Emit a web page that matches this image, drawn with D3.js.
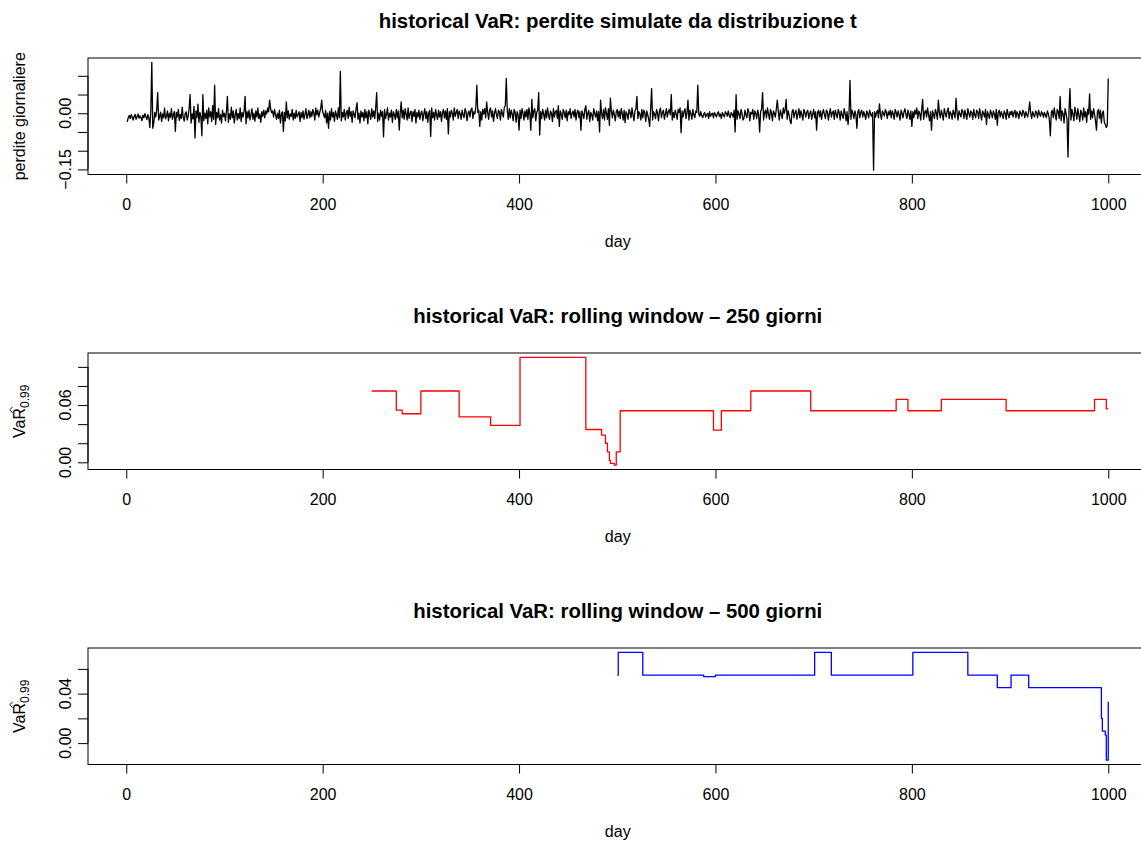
<!DOCTYPE html>
<html>
<head>
<meta charset="utf-8">
<script src="https://cdn.jsdelivr.net/npm/d3@7"></script>
<style>
body { margin: 0; background: #fff; }
text { font-family: "Liberation Sans", Arial, sans-serif; }
</style>
</head>
<body>
<svg id="chart" width="1141" height="841"></svg>
<script>
// daily simulated losses, in thousandths, day 1..1000
const lossMilli = [
  -23,-12,-6,-14,-4,-10,-18,-8,-3,-16,-9,-2,-13,-7,-11,-20,-5,-12,-1,-9,
  -17,-4,-12,-38,6,136,-40,-26,2,-10,8,55,-18,-8,3,-22,-2,-12,14,-15,
  -8,6,-20,0,-11,12,-16,-4,5,-48,2,-10,10,-19,-3,-14,16,-11,-21,-1,
  4,-18,-8,12,50,-26,-2,-15,18,-66,6,-11,24,-24,2,-9,-60,50,-20,0,
  -14,8,-28,14,-10,4,-22,20,-16,75,-30,2,-12,12,-18,-4,-26,8,-9,0,
  -20,4,45,-24,-2,-16,16,-12,6,-26,-3,10,-18,-1,-14,14,-22,2,-10,6,
  45,-28,4,-12,8,-18,-4,12,-16,0,-21,6,-10,14,-14,-2,-24,4,-8,8,
  -12,6,-2,14,4,35,12,2,6,-10,10,-4,-16,0,-14,8,-26,-2,4,-48,
  2,-20,30,-12,6,-16,-2,-8,10,-18,0,-14,8,-10,-4,4,-22,2,-12,6,
  -16,-2,12,-14,-4,8,-12,4,-8,10,0,-18,14,-4,8,-10,2,12,35,4,
  -4,-12,8,-26,0,-40,4,-18,12,-10,2,-22,6,-4,-16,14,-12,112,-20,2,
  -10,10,-18,0,8,-14,16,-8,4,-24,6,-2,-12,12,28,-16,0,-26,6,-10,
  2,-20,10,-12,4,-28,8,-4,-16,12,-10,6,-14,14,55,-22,0,-18,8,-8,
  4,-63,10,-14,-2,14,-18,0,-10,8,-24,4,-4,-16,10,-12,6,-45,2,30,
  -12,8,-16,12,-2,-18,14,-14,0,6,-22,4,-8,10,-26,2,-10,8,-16,0,
  6,-20,-2,12,-14,4,-24,0,8,-62,14,-12,2,-18,10,-4,-16,8,-10,4,
  -22,2,10,-12,6,-16,12,-55,4,-10,8,0,-18,14,-8,2,10,-14,6,-2,
  -16,8,-4,-12,12,4,-20,0,6,-10,10,14,-14,4,-2,16,75,2,8,-35,
  4,-18,10,-2,12,-12,30,2,-16,8,14,-10,6,-22,0,12,-4,-14,8,4,
  -18,10,0,-10,16,20,93,6,-16,12,-12,8,-2,-20,10,2,-24,4,-4,-45,
  8,-14,12,0,-18,6,-10,10,-16,14,-2,-45,37,-12,6,12,-20,2,8,55,
  -58,4,-14,10,-2,-18,8,-12,14,-4,-16,6,0,-22,12,-10,4,8,-14,20,
  -35,6,-2,-16,10,2,-12,8,-20,4,-4,12,-14,0,6,-10,10,-18,2,8,
  -12,4,-45,6,-2,-14,10,20,-16,0,8,-22,2,-4,-18,12,0,-10,6,-20,
  4,-50,35,-2,-14,10,-18,14,0,-16,12,-32,40,6,-12,8,-4,-20,4,10,
  -10,6,-14,12,0,-18,8,-25,4,-2,-16,10,2,-12,14,-4,-20,6,12,45,
  -14,4,-2,-18,10,-12,8,2,-22,6,-4,-16,-35,12,66,-18,4,-2,-14,10,
  0,-20,6,14,-12,2,8,-16,-2,12,-10,4,10,-4,50,-18,2,-12,8,-2,
  -16,10,2,14,-52,6,-10,4,12,-14,0,35,-18,8,-2,-16,10,-4,-12,6,
  2,75,-2,-8,4,-6,-12,-2,2,-10,-4,0,-14,4,-8,-2,0,-12,2,-4,
  -10,0,4,-8,-2,-14,2,-4,-10,4,0,-8,6,-6,-12,2,-2,-10,8,-50,
  50,-16,6,-2,-14,10,0,-18,-14,8,-4,-12,12,4,-20,2,-2,10,-16,6,
  0,-14,8,-4,-50,4,12,55,-18,2,8,-12,14,-2,-16,10,2,-20,6,0,
  -10,12,35,4,-18,8,-2,-14,14,0,10,37,-16,6,-4,-20,-28,4,10,-12,
  2,8,-16,-2,12,-12,6,-4,-18,10,2,-10,4,8,-14,0,6,-16,-2,10,
  -12,4,-45,2,8,-10,6,-16,0,10,-4,-14,8,4,-18,0,12,-10,2,6,
  -16,8,-2,-12,10,2,-18,6,-4,-14,12,0,-20,4,-30,-2,88,-16,8,0,
  -14,6,-4,-40,4,10,-12,2,8,-10,4,-4,-16,6,0,-12,8,-2,-8,2,
  -152,4,-10,2,8,-12,25,-2,-16,6,0,-8,10,2,-14,4,-4,8,-12,6,
  -2,-16,10,2,-10,6,-4,-18,8,0,-12,4,12,-4,-14,8,-2,-16,6,-35,
  4,-12,8,-2,14,-14,6,0,-18,10,37,-16,2,8,-10,14,-4,-20,4,-45,
  6,-2,-14,10,0,-16,35,2,-12,8,-4,-18,12,0,-10,6,14,-14,4,-2,
  -16,8,0,-12,40,2,-18,6,-2,-10,10,4,-14,8,-4,-16,12,0,-10,6,
  2,-16,10,-4,-12,8,4,-14,12,-2,-18,6,0,-10,10,-30,4,-4,-14,8,
  0,-12,6,-2,-16,10,-32,2,8,-10,4,-4,-14,6,0,-16,10,-2,-12,4,
  -4,6,-10,2,8,-12,4,-2,-14,6,0,-8,8,2,-12,4,-4,-10,6,30,
  0,-14,4,-4,-10,6,2,-12,8,-2,-8,4,0,-10,2,-4,-12,6,-2,-16,
  -60,2,8,-12,14,-4,-18,10,4,-14,45,-20,6,-2,-26,12,0,-16,-117,8,
  66,-18,10,-2,-20,16,2,-16,12,-4,-22,8,0,-18,14,-10,4,-24,10,-2,
  52,-16,6,-12,12,-2,-20,-45,4,10,-14,8,-26,0,6,-24,-30,-38,-32,93
]
const days = d3.range(1, lossMilli.length + 1)
const losses = lossMilli.map(v => v / 1000)

// rolling 250-day VaR: value holds from each day until the next one
const var250Days = [250, 275, 281, 300, 339, 371, 401, 468, 484, 488, 490, 492, 493, 497, 499, 503, 598, 606, 636, 697, 784, 796, 830, 896, 986, 998, 1000]
const var250Vals = [0.0747, 0.0547, 0.0509, 0.0747, 0.0477, 0.0386, 0.110, 0.0344, 0.0284, 0.020, 0.0109, 0.002, -0.001, -0.003, 0.011, 0.054, 0.0337, 0.054, 0.0747, 0.054, 0.066, 0.054, 0.066, 0.054, 0.066, 0.056, 0.056]

// rolling 500-day VaR
const var500Days = [500, 501, 526, 588, 600, 701, 718, 801, 857, 887, 901, 919, 992, 993, 994, 997, 998, 1000]
const var500Vals = [0.055, 0.0734, 0.055, 0.0537, 0.055, 0.0734, 0.055, 0.0734, 0.055, 0.0448, 0.055, 0.0448, 0.0448, 0.02, 0.0097, 0.0065, -0.0138, 0.0334]

const titles = [
  "historical VaR: perdite simulate da distribuzione t",
  "historical VaR: rolling window \u2013 250 giorni",
  "historical VaR: rolling window \u2013 500 giorni"
]
const xTicks = [0, 200, 400, 600, 800, 1000]
const yTicks = [
  [-0.15, -0.10, -0.05, 0.00, 0.05, 0.10],
  [0.00, 0.02, 0.04, 0.06, 0.08, 0.10],
  [0.00, 0.02, 0.04, 0.06]
]
const yLabelled = [[-0.15, 0.00], [0.00, 0.06], [0.00, 0.04]]
const colours = ["#000000", "#ff0000", "#0000ff"]

const svg = d3.select("#chart")
const left = 88, right = 1147.5, boxH = 116.5
const tops = [58, 353, 648]
const fontSize = 16

const x = d3.scaleLinear().domain([1 - 0.04 * 999, 1000 + 0.04 * 999]).range([left, right])
const fmt = v => d3.format(".2f")(v).replace("-", "\u2212")

const series = [
  { pts: d3.zip(days, losses), curve: d3.curveLinear },
  { pts: d3.zip(var250Days, var250Vals), curve: d3.curveStepAfter },
  { pts: d3.zip(var500Days, var500Vals), curve: d3.curveStepAfter }
]

series.forEach((s, i) => {
  const top = tops[i]
  const [lo, hi] = d3.extent(s.pts, d => d[1])
  const pad = (hi - lo) * 0.04
  const y = d3.scaleLinear().domain([lo - pad, hi + pad]).range([top + boxH, top])
  const g = svg.append("g")

  g.append("path")
    .datum(s.pts)
    .attr("fill", "none")
    .attr("stroke", colours[i])
    .attr("stroke-width", 1.3)
    .attr("stroke-linejoin", "round")
    .attr("d", d3.line().x(d => x(d[0])).y(d => y(d[1])).curve(s.curve))

  g.append("rect")
    .attr("x", left).attr("y", top)
    .attr("width", right - left).attr("height", boxH)
    .attr("fill", "none").attr("stroke", "#000").attr("stroke-width", 1)

  const xa = g.append("g")
    .attr("transform", `translate(0,${top + boxH})`)
    .call(d3.axisBottom(x).tickValues(xTicks).tickFormat(d3.format("d"))
      .tickSize(9).tickPadding(15).tickSizeOuter(0))
  xa.select(".domain").attr("d", `M${x(0)},0H${x(1000)}`)
  xa.selectAll("text").attr("font-size", fontSize).attr("fill", "#000")
  xa.attr("font-family", null)

  const ya = g.append("g")
    .attr("transform", `translate(${left},0)`)
    .call(d3.axisLeft(y).tickValues(yTicks[i]).tickSize(10).tickFormat("").tickSizeOuter(0))
  const yt = yTicks[i]
  ya.select(".domain").attr("d", `M0,${y(yt[0])}V${y(yt[yt.length - 1])}`)

  yLabelled[i].forEach(v => {
    g.append("text")
      .attr("transform", `translate(71,${y(v)}) rotate(-90)`)
      .attr("text-anchor", "middle")
      .attr("font-size", fontSize)
      .text(fmt(v))
  })

  // R centres the main title over the plot region
  g.append("text")
    .attr("x", (left + right) / 2).attr("y", top - 30)
    .attr("text-anchor", "middle")
    .attr("font-size", 20.4).attr("font-weight", "bold")
    .text(titles[i])

  g.append("text")
    .attr("x", (left + right) / 2).attr("y", top + boxH + 72)
    .attr("text-anchor", "middle")
    .attr("font-size", fontSize)
    .text("day")

  const lab = g.append("g").attr("transform", `translate(25,${top + boxH / 2}) rotate(-90)`)
  if (i === 0) {
    lab.append("text").attr("text-anchor", "middle").attr("font-size", fontSize).text("perdite giornaliere")
  } else {
    const t = lab.append("text").attr("text-anchor", "middle").attr("font-size", fontSize)
    t.append("tspan").text("VaR")
    t.append("tspan").attr("dy", 4).attr("font-size", 12).text("0.99")
    const rEnd = t.node().getEndPositionOfChar(2)
    const rStart = t.node().getStartPositionOfChar(2)
    const cx = (rStart.x + rEnd.x) / 2 + 4
    lab.append("path")
      .attr("d", `M${cx - 3},-12.5L${cx},-15L${cx + 3},-12.5`)
      .attr("fill", "none").attr("stroke", "#000").attr("stroke-width", 0.9)
  }
})
</script>
</body>
</html>
